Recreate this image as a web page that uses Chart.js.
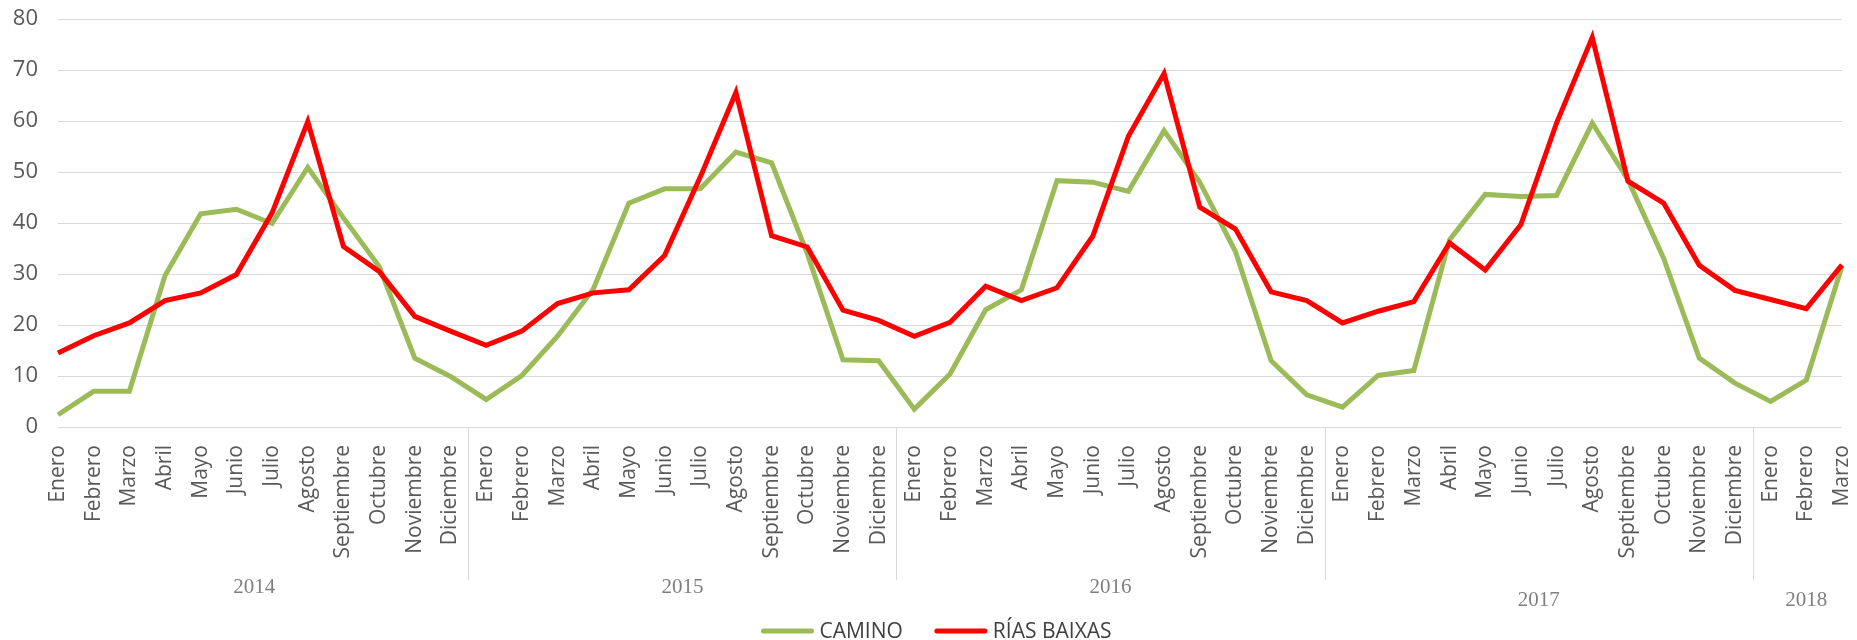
<!DOCTYPE html>
<html lang="es">
<head>
<meta charset="utf-8">
<title>Camino / Rías Baixas</title>
<script src="https://cdn.jsdelivr.net/npm/chart.js@4.4.0/dist/chart.umd.min.js"></script>
<style>
  html, body { margin: 0; padding: 0; background: #fff; }
  #chart { display: block; }
</style>
</head>
<body>
<canvas id="chart" width="1857" height="640"></canvas>
<script>
// ---------- DATOS ----------
const monthNames = ['Enero','Febrero','Marzo','Abril','Mayo','Junio','Julio','Agosto','Septiembre','Octubre','Noviembre','Diciembre'];
const years = ['2014','2015','2016','2017','2018'];
const monthsPerYear = [12, 12, 12, 12, 3];

const camino = [
  2.4, 7.0, 7.0, 29.7, 41.8, 42.7, 39.9, 50.9, 41.0, 31.5, 13.5, 9.9,
  5.4, 10.1, 17.8, 27.0, 43.9, 46.7, 46.7, 53.9, 51.8, 34.0, 13.2, 13.0,
  3.5, 10.4, 23.0, 26.9, 48.3, 48.0, 46.2, 58.1, 48.0, 34.4, 13.0, 6.3,
  3.9, 10.1, 11.1, 36.7, 45.6, 45.2, 45.4, 59.6, 48.5, 33.1, 13.5, 8.6,
  5.0, 9.2, 31.5
];
const riasBaixas = [
  14.5, 17.9, 20.4, 24.8, 26.3, 29.9, 42.0, 59.9, 35.4, 30.5, 21.7, 18.8,
  16.0, 18.8, 24.2, 26.3, 26.9, 33.6, 49.0, 65.6, 37.5, 35.3, 22.9, 20.9,
  17.8, 20.5, 27.6, 24.8, 27.3, 37.4, 57.0, 69.3, 43.1, 38.8, 26.5, 24.8,
  20.4, 22.7, 24.6, 36.1, 30.8, 39.7, 59.6, 76.4, 48.2, 43.9, 31.7, 26.8,
  25.0, 23.2, 31.8
];

// una etiqueta por mes, año tras año
const labels = [];
monthsPerYear.forEach(n => { for (let m = 0; m < n; m++) labels.push(monthNames[m]); });

const GREEN = '#9BBB59', RED = '#FF0000';
const TXT = '#595959';

// ---------- AÑOS BAJO EL EJE (separadores + etiqueta) ----------
const yearAxis = {
  id: 'yearAxis',
  afterDraw(chart) {
    const x = chart.scales.x, area = chart.chartArea, ctx = chart.ctx;
    ctx.save();
    ctx.font = '21px "Liberation Serif", "Times New Roman", serif';
    ctx.fillStyle = '#7f7f7f';
    ctx.textAlign = 'center';
    ctx.textBaseline = 'middle';
    ctx.strokeStyle = '#d9d9d9';
    ctx.lineWidth = 1;
    let start = 0;
    years.forEach((yr, g) => {
      const end = start + monthsPerYear[g] - 1;
      if (g > 0) {
        const sx = Math.round((x.getPixelForValue(start - 1) + x.getPixelForValue(start)) / 2) + 0.5;
        ctx.beginPath();
        ctx.moveTo(sx, area.bottom);
        ctx.lineTo(sx, area.bottom + 153);
        ctx.stroke();
      }
      const cx = (x.getPixelForValue(start) + x.getPixelForValue(end)) / 2;
      // los dos últimos años quedan una fila más abajo
      const row = g >= 3 ? 1 : 0;
      ctx.fillText(yr, cx, area.bottom + 160 + row * 13);
      start = end + 1;
    });
    ctx.restore();
  }
};

// ---------- LEYENDA (línea + texto, centrada abajo) ----------
const lineLegend = {
  id: 'lineLegend',
  afterDraw(chart) {
    const ctx = chart.ctx;
    const sample = 52, gapText = 6, gapItem = 32, y = 631;
    ctx.save();
    ctx.font = '21px "Open Sans", sans-serif';
    ctx.textBaseline = 'middle';
    const items = chart.data.datasets.map(ds => ({ text: ds.label, color: ds.borderColor, w: ctx.measureText(ds.label).width }));
    const total = items.reduce((s, it) => s + sample + gapText + it.w, 0) + gapItem * (items.length - 1);
    let px = chart.width / 2 + 8 - total / 2;
    items.forEach(it => {
      ctx.strokeStyle = it.color;
      ctx.lineWidth = 5;
      ctx.lineCap = 'round';
      ctx.beginPath();
      ctx.moveTo(px + 2, y);
      ctx.lineTo(px + sample - 2, y);
      ctx.stroke();
      px += sample + gapText;
      ctx.fillStyle = '#404040';
      ctx.fillText(it.text, px, y + 1);
      px += it.w + gapItem;
    });
    ctx.restore();
  }
};

new Chart(document.getElementById('chart'), {
  type: 'line',
  data: {
    labels: labels,
    datasets: [
      { label: 'CAMINO', data: camino, borderColor: GREEN, backgroundColor: GREEN,
        borderWidth: 5, pointRadius: 0, tension: 0, fill: false, order: 2 },
      { label: 'RÍAS BAIXAS', data: riasBaixas, borderColor: RED, backgroundColor: RED,
        borderWidth: 5, pointRadius: 0, tension: 0, fill: false, order: 1 }
    ]
  },
  options: {
    responsive: false,
    animation: false,
    devicePixelRatio: 1,
    layout: { padding: { top: 19, left: 13, right: 15, bottom: 0 } },
    plugins: {
      legend: { display: false },
      tooltip: { enabled: false }
    },
    scales: {
      x: {
        type: 'category',
        offset: false,
        grid: { display: false, drawTicks: false },
        border: { display: false },
        ticks: {
          autoSkip: false, minRotation: 90, maxRotation: 90, padding: 18,
          color: TXT, font: { family: '"Open Sans", sans-serif', size: 21 }
        },
        afterFit(scale) {
          scale.height = 213;
          // sin margen extra por las etiquetas giradas de los extremos
          scale.paddingLeft = 0;
          scale.paddingRight = 0;
        }
      },
      y: {
        min: 0, max: 80,
        grid: { color: '#d9d9d9', lineWidth: 1, drawTicks: false },
        border: { display: false },
        ticks: {
          stepSize: 10, padding: 20,
          color: TXT, font: { family: '"Open Sans", sans-serif', size: 22 }
        },
        afterFit(scale) {
          scale.width = 45;
          scale.paddingTop = 0;
          scale.paddingBottom = 0;
        }
      }
    }
  },
  plugins: [yearAxis, lineLegend]
});
</script>
</body>
</html>
